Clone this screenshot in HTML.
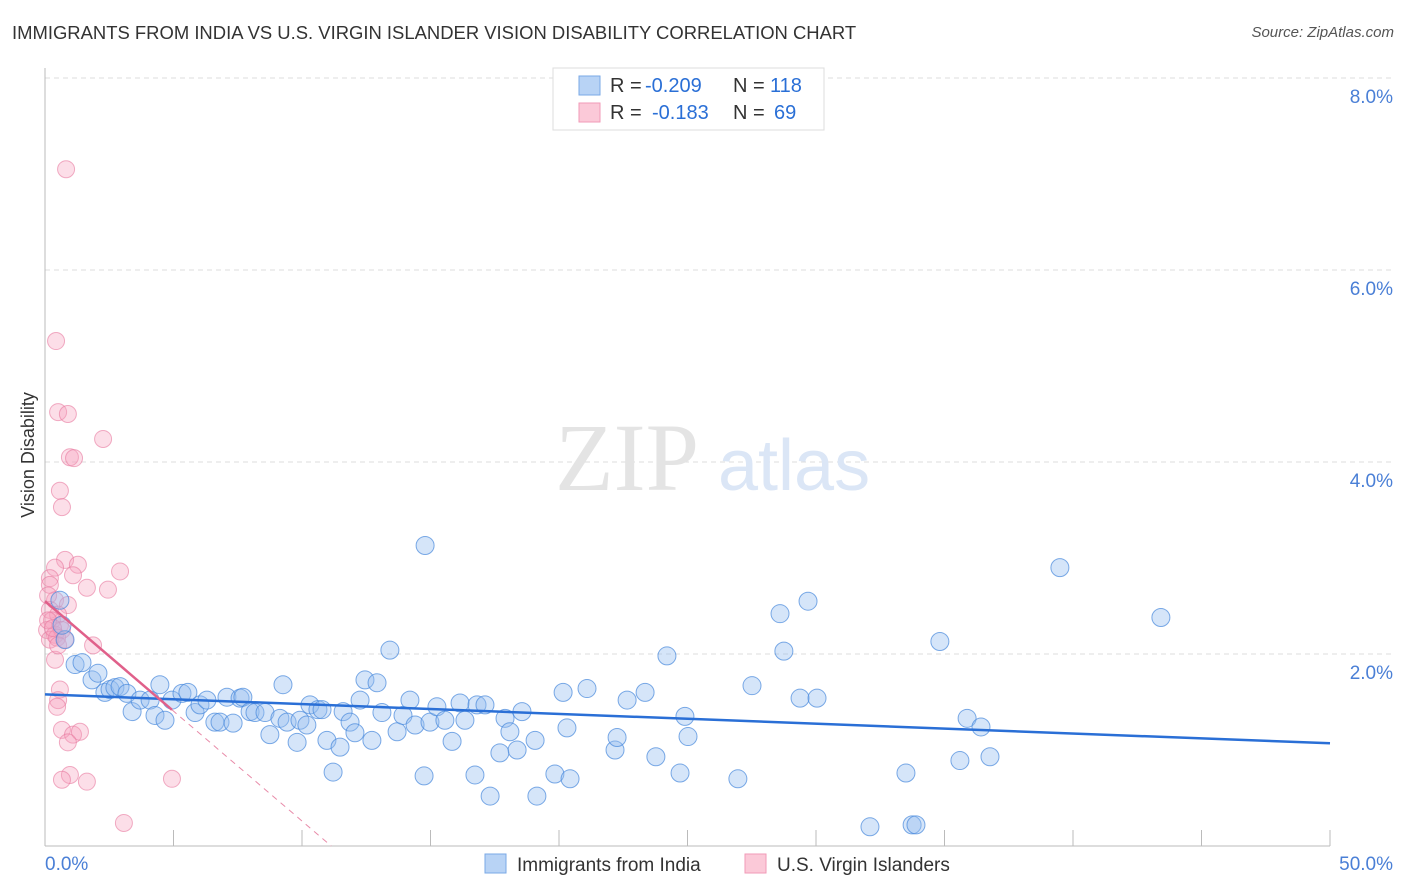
<!DOCTYPE html>
<html><head><meta charset="utf-8">
<style>
body{margin:0;background:#fff;font-family:"Liberation Sans",sans-serif;}
#wrap{position:relative;width:1406px;height:892px;overflow:hidden;}
.title{position:absolute;left:12px;top:22px;font-size:18.45px;color:#333;}
.src{position:absolute;right:12px;top:24px;font-size:15px;color:#555;font-style:italic;}
</style></head><body>
<div id="wrap">
<div class="title">IMMIGRANTS FROM INDIA VS U.S. VIRGIN ISLANDER VISION DISABILITY CORRELATION CHART</div>
<div class="src">Source: ZipAtlas.com</div>
<svg id="chart" width="1406" height="892" style="position:absolute;left:0;top:0"></svg>
</div>
<script>
const blueX=[0.58,0.78,0.66,1.17,1.44,1.83,2.06,2.33,2.53,2.72,2.92,3.19,3.39,3.70,4.09,4.28,4.47,4.67,4.94,5.33,5.56,5.84,6.03,6.30,6.61,6.81,7.08,7.32,7.59,7.70,7.98,8.17,8.56,8.75,9.14,9.26,9.42,9.81,9.92,10.19,10.31,10.62,10.78,10.97,11.21,11.48,11.60,11.87,12.06,12.26,12.45,12.72,12.92,13.11,13.42,13.70,13.93,14.20,14.40,14.75,14.79,14.98,15.25,15.56,15.84,16.15,16.34,16.73,16.81,17.12,17.32,17.70,17.90,18.09,18.37,18.56,19.07,19.14,19.84,20.16,20.31,20.43,21.09,22.18,22.26,22.65,23.35,23.77,24.20,24.71,24.90,25.02,26.96,27.51,28.60,28.75,29.38,29.69,30.04,32.10,33.50,33.74,33.89,34.82,35.60,35.88,36.42,36.77,39.49,43.42];
const blueY=[2.56,2.15,2.30,1.89,1.91,1.73,1.80,1.60,1.63,1.65,1.66,1.59,1.40,1.52,1.52,1.36,1.68,1.31,1.52,1.59,1.60,1.39,1.47,1.52,1.29,1.29,1.55,1.28,1.54,1.55,1.40,1.39,1.39,1.16,1.33,1.68,1.29,1.08,1.31,1.26,1.47,1.42,1.42,1.10,0.77,1.03,1.40,1.29,1.18,1.52,1.73,1.10,1.70,1.39,2.04,1.19,1.36,1.52,1.26,0.73,3.13,1.29,1.45,1.31,1.09,1.49,1.31,0.74,1.47,1.47,0.52,0.97,1.33,1.19,1.00,1.40,1.10,0.52,0.75,1.60,1.23,0.70,1.64,1.00,1.13,1.52,1.60,0.93,1.98,0.76,1.35,1.14,0.70,1.67,2.42,2.03,1.54,2.55,1.54,0.20,0.76,0.22,0.22,2.13,0.89,1.33,1.24,0.93,2.90,2.38];
const pinkX=[0.82,0.43,0.51,0.89,2.26,0.97,1.13,0.58,0.66,0.78,1.28,0.39,2.92,1.09,0.19,1.63,2.45,0.19,0.39,0.89,0.19,0.51,0.27,0.58,0.08,0.39,0.66,0.19,0.47,1.87,0.39,0.58,0.51,0.47,0.66,1.09,1.36,0.89,0.97,0.66,1.63,4.94,3.07,0.12,0.12,0.31,0.51,0.78];
const pinkY=[7.05,5.26,4.52,4.50,4.24,4.05,4.04,3.70,3.53,2.98,2.93,2.90,2.86,2.82,2.79,2.69,2.67,2.72,2.56,2.51,2.46,2.41,2.35,2.30,2.25,2.20,2.25,2.15,2.17,2.09,1.94,1.63,1.52,1.45,1.21,1.16,1.19,1.08,0.74,0.69,0.67,0.70,0.24,2.61,2.35,2.27,2.09,2.15];
const blueTrend=[1.58,-0.0102]; // intercept, slope
const pinkTrend=[2.55,-0.229];
const yTicks=[2,4,6,8];
const yTickLabels=["2.0%","4.0%","6.0%","8.0%"];

const NS="http://www.w3.org/2000/svg";
const svg=document.getElementById('chart');
const X0=45,X1=1330,Y0=846;
const sx=v=>X0+(X1-X0)*v/50;
const sy=v=>Y0-96*v;
function mk(t,a){const e=document.createElementNS(NS,t);for(const k in a)e.setAttribute(k,a[k]);svg.appendChild(e);return e;}

yTicks.forEach((t,i)=>{
  const g=mk('line',{x1:X0,x2:1395,y1:sy(t),y2:sy(t),stroke:'#ddd','stroke-dasharray':'5,4'});
  
  
  const l=mk('text',{x:1393,y:sy(t)+25,'text-anchor':'end','font-size':19,fill:'#4a7fd6'});
  l.textContent=yTickLabels[i];
  
  
});
let ax=mk('line',{x1:X0,x2:X0,y1:68,y2:Y0,stroke:'#bbb'});


ax=mk('line',{x1:X0,x2:X1,y1:Y0,y2:Y0,stroke:'#bbb'});


for(let i=1;i<=10;i++){
  const tk=mk('line',{x1:sx(i*5),x2:sx(i*5),y1:Y0,y2:Y0-16,stroke:'#bbb'});
  
  
}
let tx=mk('text',{x:45,y:870,'font-size':19,fill:'#4a7fd6'});tx.textContent='0.0%';


tx=mk('text',{x:1393,y:870,'font-size':19,fill:'#4a7fd6','text-anchor':'end'});tx.textContent='50.0%';


tx=mk('text',{x:34,y:455,'font-size':18,fill:'#333','text-anchor':'middle',transform:'rotate(-90 34 455)'});tx.textContent='Vision Disability';


tx=mk('text',{x:555,y:490,'font-size':96,fill:'#e4e4e4','font-family':'Liberation Serif'});tx.textContent='ZIP';


tx=mk('text',{x:718,y:490,'font-size':72,fill:'#dbe6f6'});tx.textContent='atlas';



pinkX.forEach((x,i)=>{
  const c=mk('circle',{cx:sx(x),cy:sy(pinkY[i]),r:8.5,fill:'rgba(245,160,188,0.35)',stroke:'rgba(232,120,158,0.6)','stroke-width':1});
  
  
});
blueX.forEach((x,i)=>{
  const c=mk('circle',{cx:sx(x),cy:sy(blueY[i]),r:9,fill:'rgba(150,190,240,0.4)',stroke:'rgba(70,135,220,0.7)','stroke-width':1});
  
  
});
let tl=mk('line',{x1:sx(0),y1:sy(blueTrend[0]),x2:sx(50),y2:sy(blueTrend[0]+blueTrend[1]*50),stroke:'#2a6fd6','stroke-width':2.5});


const pEnd=4.94, pZero=-pinkTrend[0]/pinkTrend[1];
tl=mk('line',{x1:sx(0),y1:sy(pinkTrend[0]),x2:sx(pEnd),y2:sy(pinkTrend[0]+pinkTrend[1]*pEnd),stroke:'#e0608a','stroke-width':2.5});


tl=mk('line',{x1:sx(pEnd),y1:sy(pinkTrend[0]+pinkTrend[1]*pEnd),x2:sx(pZero),y2:sy(0),stroke:'#e88aa8','stroke-width':1,'stroke-dasharray':'6,5'});



let lg=mk('rect',{x:553,y:68,width:271,height:62,fill:'#fff',stroke:'#ddd'});


function legRow(y,fill,stroke,rx,r,nx,n,nm){
  const s=mk('rect',{x:579,y:y-9,width:21,height:19,fill:fill,stroke:stroke});
  
  
  const t=mk('text',{x:610,y:y+7,'font-size':20,fill:'#333'});
  t.innerHTML='R = <tspan x="'+rx+'" fill="#2a6fd6">'+r+'</tspan><tspan x="733">N = </tspan><tspan x="'+nx+'" fill="#2a6fd6">'+n+'</tspan>';
  
  
}
legRow(85,'#b8d3f5','#7aa8e6',645,'-0.209',770,'118','blue');
legRow(112,'#fbc9d8','#f19ab7',652,'-0.183',774,'69','pink');
function botLeg(x,fill,stroke,label,nm){
  const s=mk('rect',{x:x,y:854,width:21,height:19,fill:fill,stroke:stroke});
  
  
  const t=mk('text',{x:x+32,y:871,'font-size':19,fill:'#333'});t.textContent=label;
  
  
}
botLeg(485,'#b8d3f5','#7aa8e6','Immigrants from India','blue');
botLeg(745,'#fbc9d8','#f19ab7','U.S. Virgin Islanders','pink');
</script>
</body></html>
